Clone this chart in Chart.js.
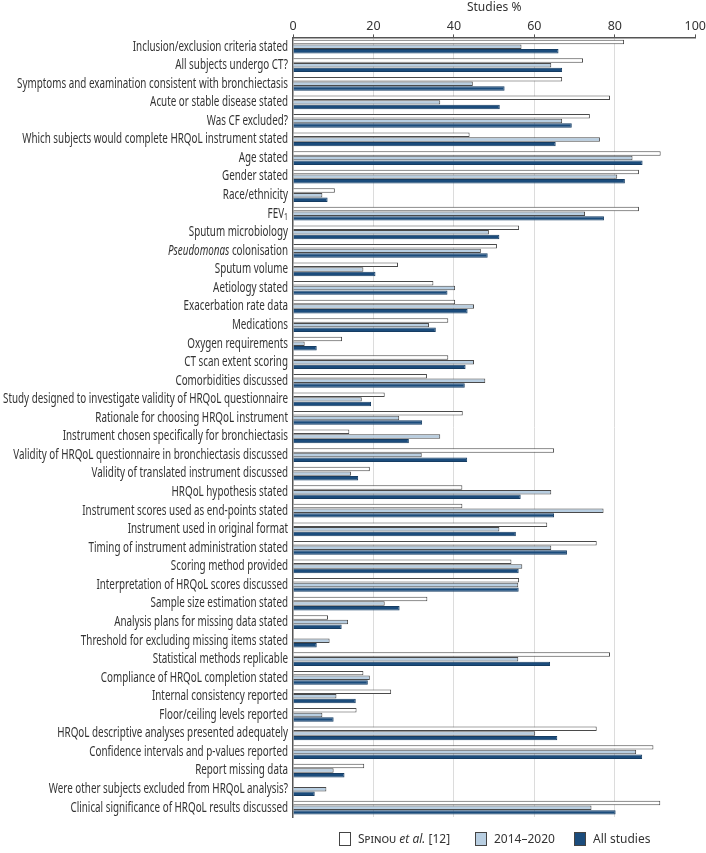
<!DOCTYPE html>
<html>
<head>
<meta charset="utf-8">
<title>HRQoL reporting</title>
<script src="https://cdn.jsdelivr.net/npm/chart.js@4.4.1/dist/chart.umd.min.js"></script>
<style>
  body { margin: 0; background: #fff; }
  #wrap { position: relative; width: 706px; height: 853px; }
  #legend {
    font: 12px "Noto Sans", sans-serif;
    color: #333;
  }
  #legend .item { position: absolute; top: 830px; display: flex; align-items: center; white-space: nowrap; }
  #legend .box { width: 10px; height: 12px; border: 1px solid #444; margin-right: 7px; }
</style>
</head>
<body>
<div id="wrap">
  <canvas id="myChart" width="706" height="853"></canvas>
  <div id="legend">
    <div class="item" style="left:339px"><span class="box" style="background:#ffffff"></span><span><span style="font-variant:small-caps">Spinou</span> <i>et al.</i> [12]</span></div>
    <div class="item" style="left:475px"><span class="box" style="background:#b8cee1"></span><span>2014–2020</span></div>
    <div class="item" style="left:574px"><span class="box" style="background:#1b4c7c"></span><span>All studies</span></div>
  </div>
</div>
<script>
// categories (<i> = italic, <sub> = subscript)
const categories = [
  'Inclusion/exclusion criteria stated',
  'All subjects undergo CT?',
  'Symptoms and examination consistent with bronchiectasis',
  'Acute or stable disease stated',
  'Was CF excluded?',
  'Which subjects would complete HRQoL instrument stated',
  'Age stated',
  'Gender stated',
  'Race/ethnicity',
  'FEV<sub>1</sub>',
  'Sputum microbiology',
  '<i>Pseudomonas</i> colonisation',
  'Sputum volume',
  'Aetiology stated',
  'Exacerbation rate data',
  'Medications',
  'Oxygen requirements',
  'CT scan extent scoring',
  'Comorbidities discussed',
  'Study designed to investigate validity of HRQoL questionnaire',
  'Rationale for choosing HRQoL instrument',
  'Instrument chosen specifically for bronchiectasis',
  'Validity of HRQoL questionnaire in bronchiectasis discussed',
  'Validity of translated instrument discussed',
  'HRQoL hypothesis stated',
  'Instrument scores used as end-points stated',
  'Instrument used in original format',
  'Timing of instrument administration stated',
  'Scoring method provided',
  'Interpretation of HRQoL scores discussed',
  'Sample size estimation stated',
  'Analysis plans for missing data stated',
  'Threshold for excluding missing items stated',
  'Statistical methods replicable',
  'Compliance of HRQoL completion stated',
  'Internal consistency reported',
  'Floor/ceiling levels reported',
  'HRQoL descriptive analyses presented adequately',
  'Confidence intervals and p-values reported',
  'Report missing data',
  'Were other subjects excluded from HRQoL analysis?',
  'Clinical significance of HRQoL results discussed'
];

// Spinou et al. [12]
const spinouValues = [
  82.3, 72.1, 66.9, 78.8, 73.8, 43.9, 91.4, 86.0, 10.4, 86.0,
  56.2, 50.7, 26.1, 34.9, 40.3, 38.6, 12.2, 38.6, 33.3, 22.8,
  42.2, 14.0, 64.9, 19.1, 42.1, 42.1, 63.2, 75.5, 54.3, 56.2,
  33.4, 8.7, 0, 78.8, 17.5, 24.4, 15.8, 75.5, 89.6, 17.7,
  0, 91.3
];

// 2014–2020
const recentValues = [
  56.8, 64.2, 44.7, 36.6, 66.9, 76.3, 84.4, 80.6, 7.3, 72.6,
  48.7, 46.7, 17.5, 40.3, 45.0, 33.8, 2.9, 45.0, 47.8, 17.1,
  26.4, 36.6, 32.0, 14.4, 64.2, 77.2, 51.3, 64.2, 57.0, 56.0,
  22.8, 13.7, 9.1, 56.0, 19.1, 10.8, 7.3, 60.2, 85.3, 10.1,
  8.3, 74.2
];

// All studies
const allValues = [
  66.0, 66.9, 52.6, 51.4, 69.3, 65.3, 86.9, 82.5, 8.6, 77.3,
  51.3, 48.4, 20.5, 38.4, 43.4, 35.5, 5.9, 42.9, 42.7, 19.4,
  32.1, 28.8, 43.3, 16.2, 56.6, 64.9, 55.4, 68.1, 56.1, 56.1,
  26.5, 12.1, 5.9, 63.9, 18.6, 15.6, 10.1, 65.7, 86.8, 12.8,
  5.4, 80.2
];

const xMin = 0;
const xMax = 100;
const xStep = 20;

const FONT = '"Noto Sans", sans-serif';
const LABEL_SIZE = 13.5;
const LABEL_MAX_WIDTH = 285; // widest label in the original

// split '<i>..</i>' / '<sub>..</sub>' into runs
function parseRuns(label) {
  const runs = [];
  const re = /<(i|sub)>(.*?)<\/\1>/g;
  let last = 0, m;
  while ((m = re.exec(label)) !== null) {
    if (m.index > last) runs.push({ text: label.slice(last, m.index), style: 'normal' });
    runs.push({ text: m[2], style: m[1] });
    last = re.lastIndex;
  }
  if (last < label.length) runs.push({ text: label.slice(last), style: 'normal' });
  return runs;
}

function runFont(style) {
  if (style === 'i') return 'italic ' + LABEL_SIZE + 'px ' + FONT;
  if (style === 'sub') return '9.5px ' + FONT;
  return LABEL_SIZE + 'px ' + FONT;
}

function measureRuns(ctx, runs) {
  let total = 0;
  runs.forEach(r => { ctx.font = runFont(r.style); r.w = ctx.measureText(r.text).width; total += r.w; });
  return total;
}

// draws the category labels (condensed) with italic / subscript parts
const richLabels = {
  id: 'richLabels',
  afterDraw(chart) {
    const ctx = chart.ctx;
    const yScale = chart.scales.y;
    const right = yScale.right - 5;
    ctx.save();
    const parsed = categories.map(parseRuns);
    const widths = parsed.map(runs => measureRuns(ctx, runs));
    const sx = Math.min(1, LABEL_MAX_WIDTH / Math.max(...widths));
    ctx.fillStyle = '#333';
    ctx.textBaseline = 'middle';
    ctx.textAlign = 'left';
    parsed.forEach((runs, i) => {
      const y = yScale.getPixelForValue(i);
      ctx.save();
      ctx.translate(right, y);
      ctx.scale(sx, 1);
      let x = -widths[i];
      runs.forEach(r => {
        ctx.font = runFont(r.style);
        ctx.fillText(r.text, x, r.style === 'sub' ? 4 : 0);
        x += r.w;
      });
      ctx.restore();
    });
    ctx.restore();
  }
};

const ctx = document.getElementById('myChart');
const myChart = new Chart(ctx, {
  type: 'bar',
  data: {
    labels: categories,
    datasets: [
      {
        label: 'Spinou et al. [12]',
        data: spinouValues,
        backgroundColor: '#ffffff',
        borderColor: '#4a4a4a',
        borderWidth: 1
      },
      {
        label: '2014–2020',
        data: recentValues,
        backgroundColor: '#b8cee1',
        borderColor: '#4a4a4a',
        borderWidth: 1
      },
      {
        label: 'All studies',
        data: allValues,
        backgroundColor: '#1b4c7c',
        borderColor: '#163d63',
        borderWidth: 1
      }
    ]
  },
  plugins: [richLabels],
  options: {
    indexAxis: 'y',
    responsive: false,
    animation: false,
    datasets: {
      bar: { categoryPercentage: 0.75, barPercentage: 0.96 }
    },
    layout: { padding: { top: 0, right: 10, bottom: 36, left: 0 } },
    plugins: {
      legend: { display: false },
      tooltip: { enabled: false }
    },
    scales: {
      x: {
        position: 'top',
        min: xMin,
        max: xMax,
        ticks: { stepSize: xStep, color: '#333', font: { family: FONT, size: 12.5 }, padding: 0 },
        title: { display: true, text: 'Studies %', color: '#333', font: { family: FONT, size: 12 }, padding: { top: 0, bottom: 5 } },
        border: { color: '#555', width: 1.5 },
        grid: {
          color: c => (c.tick && (c.tick.value === xMin || c.tick.value === xMax)) ? 'rgba(0,0,0,0)' : '#dcdcdc',
          tickColor: '#555',
          tickLength: 3,
          lineWidth: 1
        }
      },
      y: {
        ticks: { display: false },
        grid: { display: false },
        border: { color: '#555', width: 1.5 },
        afterFit(scale) { scale.width = 293; }
      }
    }
  }
});
</script>
</body>
</html>
